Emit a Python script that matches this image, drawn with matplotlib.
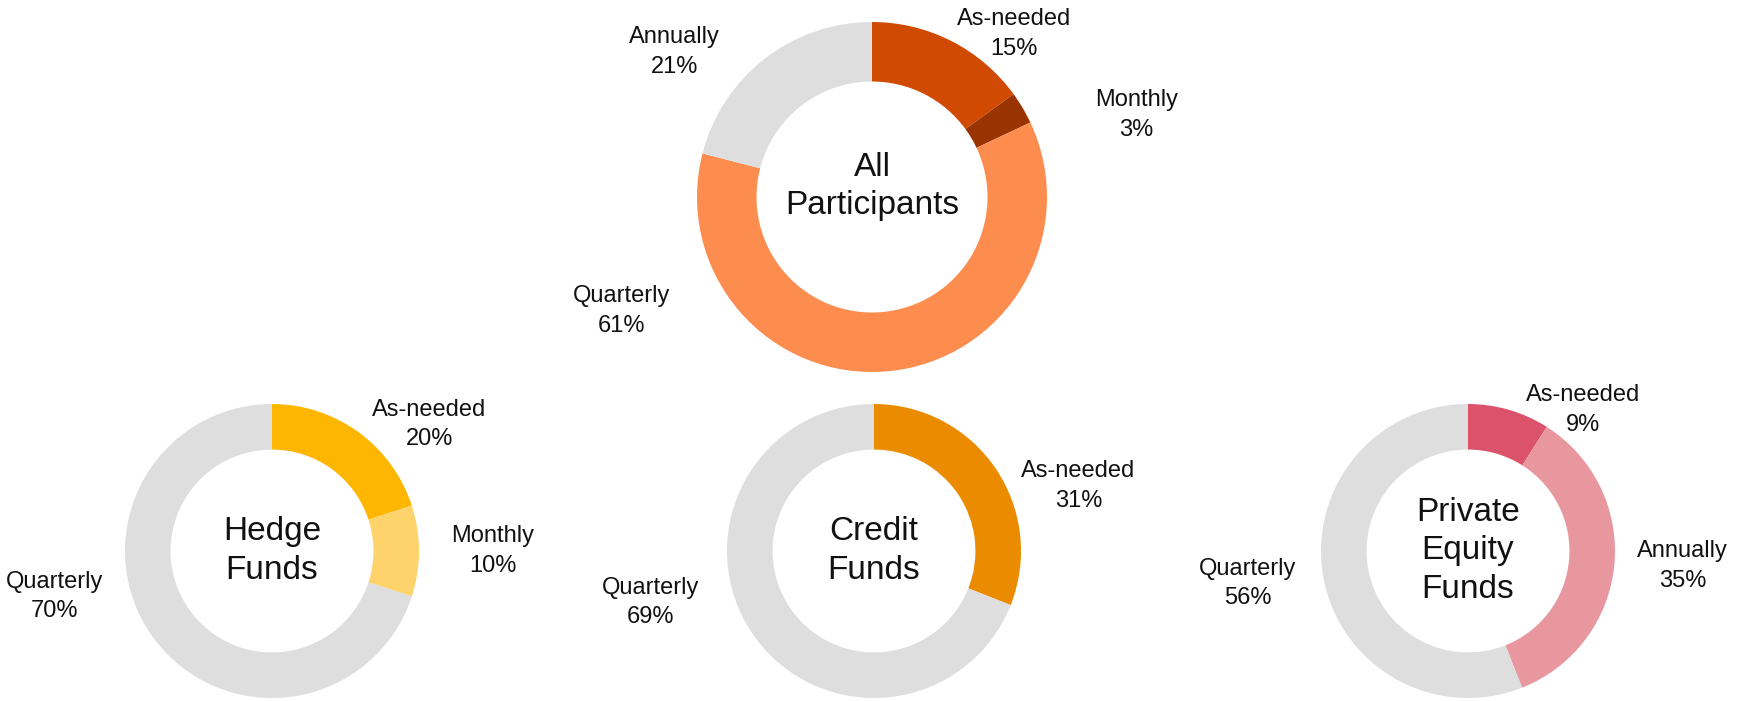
import matplotlib
matplotlib.use("Agg")
import matplotlib.pyplot as plt

plt.rcParams['font.family'] = ['Liberation Sans', 'DejaVu Sans']

# wedge order: clockwise from 12 o'clock
all_names = ["As-needed", "Monthly", "Quarterly", "Annually"]
all_values = [15, 3, 61, 21]
all_colors = ["#D04A02", "#993300", "#FD8C4F", "#DEDEDE"]

hedge_names = ["As-needed", "Monthly", "Quarterly"]
hedge_values = [20, 10, 70]
hedge_colors = ["#FFB600", "#FFD36B", "#DEDEDE"]

credit_names = ["As-needed", "Quarterly"]
credit_values = [31, 69]
credit_colors = ["#EB8C00", "#DEDEDE"]

pe_names = ["As-needed", "Annually", "Quarterly"]
pe_values = [9, 35, 56]
pe_colors = ["#DB536A", "#E8979F", "#DEDEDE"]

# label anchors, in units of the donut radius
all_label_pos = [(0.81, 0.93), (1.51, 0.47), (-1.43, -0.65), (-1.13, 0.83)]
hedge_label_pos = [(1.07, 0.86), (1.50, 0.0), (-1.48, -0.31)]
credit_label_pos = [(1.39, 0.44), (-1.52, -0.35)]
pe_label_pos = [(0.78, 0.96), (1.46, -0.10), (-1.50, -0.22)]

W, H = 1750, 701


def donut(fig, cx, cy, r, names, values, colors, label_pos, title,
          title_dy=0.0, ring=0.33):
    ax = fig.add_axes([(cx - 1.25 * r) / W, (H - cy - 1.25 * r) / H,
                       2.5 * r / W, 2.5 * r / H])
    ax.pie(values, colors=colors, startangle=90, counterclock=False,
           wedgeprops=dict(width=ring, edgecolor="none", linewidth=0))
    ax.set_xlim(-1.25, 1.25)
    ax.set_ylim(-1.25, 1.25)
    ax.axis("off")
    for n, v, (x, y) in zip(names, values, label_pos):
        ax.text(x, y, "%s\n%d%%" % (n, v), ha="center", va="center",
                fontsize=17, linespacing=1.45, color="#111111",
                clip_on=False)
    ax.text(0, title_dy, title, ha="center", va="center", fontsize=24,
            linespacing=1.3, color="#111111")
    return ax


fig = plt.figure(figsize=(W / 100, H / 100), dpi=100)

donut(fig, 872, 197, 175, all_names, all_values, all_colors,
      all_label_pos, "All\nParticipants", title_dy=0.06, ring=0.34)
donut(fig, 272, 551, 147, hedge_names, hedge_values, hedge_colors,
      hedge_label_pos, "Hedge\nFunds", ring=0.31)
donut(fig, 874, 551, 147, credit_names, credit_values, credit_colors,
      credit_label_pos, "Credit\nFunds", ring=0.31)
donut(fig, 1468, 551, 147, pe_names, pe_values, pe_colors,
      pe_label_pos, "Private\nEquity\nFunds", ring=0.31)

fig.savefig("out.png", dpi=100)
